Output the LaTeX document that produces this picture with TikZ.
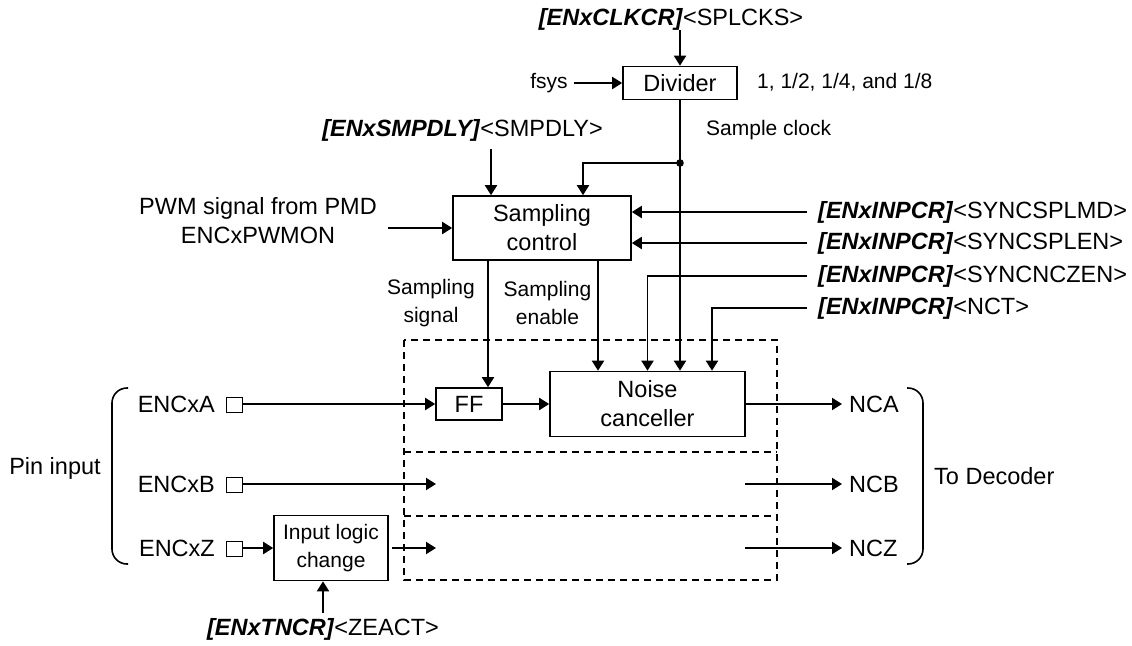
\documentclass[tikz,border=0pt]{standalone}
\usepackage{fontspec}
\setmainfont{Liberation Sans}
\usetikzlibrary{arrows.meta}
\newcommand\rg[1]{\textbf{\textit{#1}}}
\newcommand\bigf{\fontsize{23.5}{29}\selectfont}
\newcommand\smf{\fontsize{21}{28}\selectfont}
\begin{document}
\begin{tikzpicture}[x=1pt,y=-1pt,
  blk/.style={draw, line width=1.6pt, inner sep=0pt, align=center, font=\bigf},
  lbl/.style={inner sep=0pt, align=center, font=\bigf},
  slbl/.style={inner sep=0pt, align=center, font=\smf},
  conn/.style={line width=1.9pt, -{Triangle[length=10pt,width=12pt]}},
  wire/.style={line width=1.9pt},
  pin/.style={draw, line width=1.3pt, minimum width=16pt, minimum height=15pt, inner sep=0pt},
  dsh/.style={line width=1.5pt, dash pattern=on 7pt off 5pt},
  brc/.style={line width=1.6pt, rounded corners=15pt}]
\useasboundingbox (0,0) rectangle (1132,645);

% top: divider
\node[lbl] (clkcr) at (671,19) {\rg{[ENxCLKCR]}<SPLCKS>};
\node[blk, minimum width=114pt, minimum height=33pt] (div) at (680,83) {Divider};
\draw[conn] (clkcr.south -| div.north) -- (div.north);
\node[slbl] (fsys) at (549,83) {fsys};
\draw[conn] ([xshift=6pt]fsys.east) -- (div.west);
\node[slbl, anchor=west] (ratio) at (757,82) {1, 1/2, 1/4, and 1/8};
\node[slbl, anchor=west] (sclk) at (706,130) {Sample clock};
\coordinate (dot) at (680,163);

% sampling control
\node[blk, minimum width=178pt, minimum height=64pt] (sc) at (542,228) {Sampling\\control};
\node[lbl, anchor=east] (smp) at (603,130) {\rg{[ENxSMPDLY]}<SMPDLY>};
\coordinate (smpa) at (491,149);
\draw[conn] (smpa) -- (smpa |- sc.north);
\node[lbl] (pwm) at (258,221) {PWM signal from PMD\\ENCxPWMON};
\coordinate (pwma) at (388,228);
\draw[conn] (pwma) -- (sc.west);

% right register inputs
\node[lbl, anchor=west] (r1) at (818,212) {\rg{[ENxINPCR]}<SYNCSPLMD>};
\node[lbl, anchor=west] (r2) at (818,243) {\rg{[ENxINPCR]}<SYNCSPLEN>};
\node[lbl, anchor=west] (r3) at (818,276) {\rg{[ENxINPCR]}<SYNCNCZEN>};
\node[lbl, anchor=west] (r4) at (818,308) {\rg{[ENxINPCR]}<NCT>};

% noise filter area
\draw[dsh] (404,340) rectangle (777,580);
\draw[dsh] (404,452) -- (777,452);
\draw[dsh] (404,516) -- (777,516);
\node[blk, minimum width=66pt, minimum height=32pt] (ff) at (469,404) {FF};
\node[blk, minimum width=195pt, minimum height=65pt] (nc) at (647.5,404) {Noise\\canceller};

\draw[conn] ([xshift=-11pt]r1.west) -- (r1.west -| sc.east);
\draw[conn] ([xshift=-11pt]r2.west) -- (r2.west -| sc.east);
\draw[conn] ([xshift=-11pt]r3.west) -| (nc.north);
\draw[conn] ([xshift=-11pt]r4.west) -| ([xshift=64.5pt]nc.north);

% clock
\draw[wire] (div.south) -- (dot);
\fill (dot) circle (3.8pt);
\draw[conn] (dot) -| ([xshift=41pt]sc.north);
\draw[conn] (dot) -- (dot |- nc.north);

% sampling outputs
\draw[conn] ([xshift=-54pt]sc.south) -- ([xshift=-54pt]sc.south |- ff.north);
\draw[conn] ([xshift=56pt]sc.south) -- ([xshift=56pt]sc.south |- nc.north);
\node[slbl] (ssig) at (431,303) {Sampling\\signal};
\node[slbl] (sen) at (547.5,303) {Sampling\\enable};

% pins
\node[lbl, anchor=east] (ta) at (215,404) {ENCxA};
\node[lbl, anchor=east] (tb) at (215,484) {ENCxB};
\node[lbl, anchor=east] (tz) at (215,548) {ENCxZ};
\node[pin] (pa) at (234.5,405) {};
\node[pin] (pb) at (234.5,485) {};
\node[pin] (pz) at (234.5,549) {};
\node[blk, font=\smf, minimum width=114pt, minimum height=65pt] (ilc) at (331,548) {Input logic\\change};
\node[lbl] (tncr) at (323,629) {\rg{[ENxTNCR]}<ZEACT>};
\coordinate (tncra) at (323,613);
\draw[conn] (tncra) -- (tncra |- ilc.south);

\coordinate (bend) at (436,484);
\coordinate (zst) at (392,548);
\coordinate (zend) at (436,548);
\draw[conn] (pa.east |- ff.west) -- (ff.west);
\draw[conn] (ff.east) -- (nc.west);
\draw[conn] (pb.east |- bend) -- (bend);
\draw[conn] (pz.east |- ilc.west) -- (ilc.west);
\draw[conn] (zst) -- (zend);

% outputs
\coordinate (nbs) at (745,484);
\coordinate (nzs) at (745,548);
\node[lbl, anchor=west] (nca) at (849,404) {NCA};
\node[lbl, anchor=west] (ncb) at (849,484) {NCB};
\node[lbl, anchor=west] (ncz) at (849,548) {NCZ};
\draw[conn] (nc.east) -- ([xshift=-7pt]nca.west);
\draw[conn] (nbs) -- ([xshift=-7pt]ncb.west);
\draw[conn] (nzs) -- ([xshift=-7pt]ncz.west);

% braces
\draw[brc] (128,388) -- (112,388) -- (112,564) -- (128,564);
\node[lbl] (pinin) at (55,468) {Pin input};
\draw[brc] (907,388) -- (923,388) -- (923,564) -- (907,564);
\node[lbl, anchor=west] (todec) at (934,476) {To Decoder};
\end{tikzpicture}
\end{document}
